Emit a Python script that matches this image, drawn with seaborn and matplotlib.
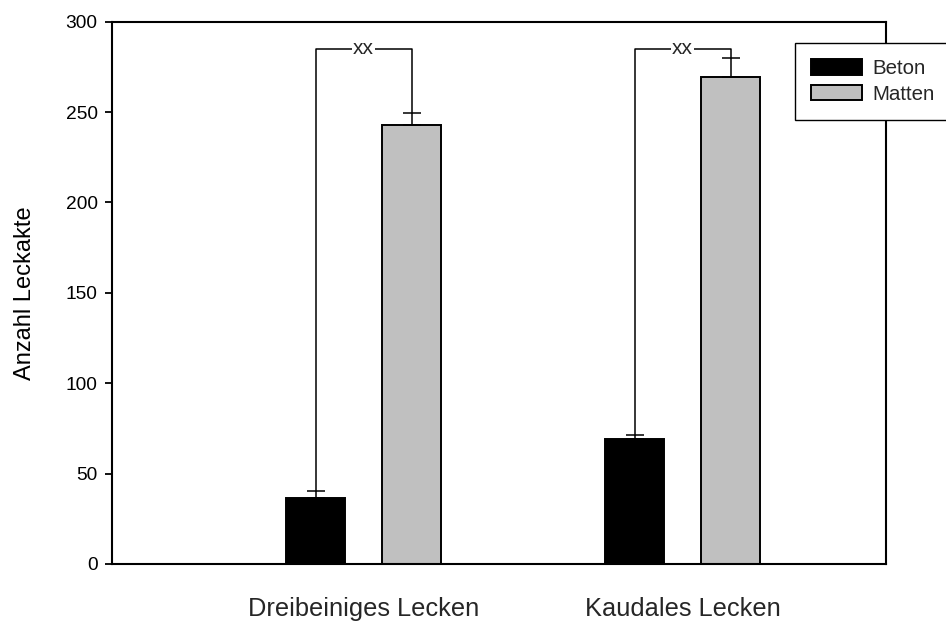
import matplotlib
matplotlib.use("Agg")
import matplotlib.pyplot as plt
import seaborn as sns
import numpy as np
import pandas as pd

categories = ["Dreibeiniges Lecken", "Kaudales Lecken"]
conditions = ["Beton", "Matten"]
beton_mean = [36.5, 69.0]
beton_err = [4.0, 2.3]
matten_mean = [243.0, 269.5]
matten_err = [6.5, 10.5]
bracket_y = [285.0, 285.0]
sig_labels = ["xx", "xx"]
yticks = [0, 50, 100, 150, 200, 250, 300]

sns.set_style("white")
plt.rcParams["font.family"] = ["Liberation Sans", "DejaVu Sans"]

df = pd.DataFrame({
    "Kategorie": categories * 2,
    "Bedingung": [conditions[0]] * 2 + [conditions[1]] * 2,
    "Anzahl": beton_mean + matten_mean,
})

fig = plt.figure(figsize=(9.46, 6.24), dpi=100)
ax = fig.add_axes([111.5 / 946, 1 - 564 / 624, (885.5 - 111.5) / 946, (564 - 21.7) / 624])

sns.barplot(data=df, x="Kategorie", y="Anzahl", hue="Bedingung",
            order=categories, hue_order=conditions,
            palette={"Beton": "black", "Matten": "#C0C0C0"},
            width=0.602, gap=0.385, edgecolor="black", linewidth=1.4,
            errorbar=None, saturation=1, ax=ax)

b_cent = [p.get_x() + p.get_width() / 2 for p in ax.containers[0]]
m_cent = [p.get_x() + p.get_width() / 2 for p in ax.containers[1]]

for cents, means, errs in [(b_cent, beton_mean, beton_err), (m_cent, matten_mean, matten_err)]:
    ax.errorbar(cents, means, yerr=[np.zeros(len(errs)), errs], fmt="none",
                ecolor="black", elinewidth=1.1, capsize=6.5, capthick=1.1, zorder=3)

for i in range(len(categories)):
    xl, xr = b_cent[i], m_cent[i]
    yl = beton_mean[i] + beton_err[i]
    yr = matten_mean[i] + matten_err[i]
    h = bracket_y[i]
    ax.plot([xl, xl, xr, xr], [yl, h, h, yr], color="black", lw=1.1, zorder=3)
    ax.annotate(sig_labels[i], xy=((xl + xr) / 2, h), xytext=(0, -3.9),
                textcoords="offset points", ha="center", va="baseline",
                fontsize=15, zorder=4,
                bbox=dict(boxstyle="square,pad=0.05", fc="white", ec="none"))

ax.set_xlim(-0.79, 1.636)
ax.set_ylim(0, 300)
ax.set_yticks(yticks)
ax.set_yticklabels([str(t) for t in yticks])
ax.tick_params(axis="y", which="major", left=True, length=5, width=1.3,
               direction="out", labelsize=13.8, pad=5, colors="black")
ax.tick_params(axis="x", which="major", bottom=False, length=0, labelsize=18.3, pad=24)
for s in ax.spines.values():
    s.set_visible(True)
    s.set_color("black")
    s.set_linewidth(1.5)

ax.set_xlabel("")
ax.set_ylabel("Anzahl Leckakte", fontsize=17, color="black")
ax.yaxis.set_label_coords(-0.098, 0.5)

handles, labels = ax.get_legend_handles_labels()
if ax.get_legend() is not None:
    ax.get_legend().remove()
leg = ax.legend(handles, labels, loc="upper left",
                bbox_to_anchor=(795 / 946, 1 - 43 / 624),
                bbox_transform=fig.transFigure, frameon=True, fancybox=False,
                edgecolor="black", framealpha=1, fontsize=14.8,
                handlelength=2.45, handleheight=0.8, handletextpad=0.5,
                labelspacing=0.3, borderaxespad=0, borderpad=0.8)
leg.get_frame().set_linewidth(1.0)

fig.savefig("out.png", dpi=100)
